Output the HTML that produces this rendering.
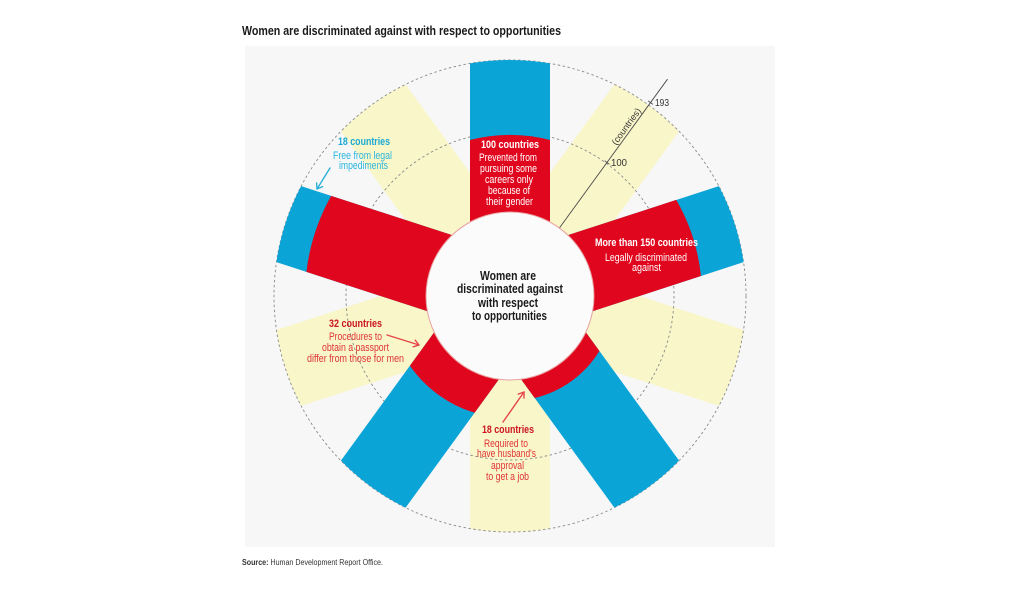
<!DOCTYPE html>
<html>
<head>
<meta charset="utf-8">
<style>
  html, body { margin: 0; padding: 0; background: #ffffff; }
  svg { display: block; }
  text { font-family: "Liberation Sans", "DejaVu Sans", sans-serif; }
</style>
</head>
<body>
<svg width="1024" height="594" viewBox="0 0 1024 594" xmlns="http://www.w3.org/2000/svg">
  <!-- title -->
  <text x="242" y="35" font-size="12.5" font-weight="bold" fill="#1a1a1a" textLength="319" lengthAdjust="spacingAndGlyphs">Women are discriminated against with respect to opportunities</text>

  <!-- panel -->
  <rect x="245" y="46" width="530" height="501" fill="#f7f7f8"/>

  <!-- yellow spokes -->
  <g fill="#f9f6ca">
    <path transform="translate(510,296) rotate(-54)" d="M0,-40 L232.59,-40 A236,236 0 0 1 232.59,40 L0,40 Z"/>
    <path transform="translate(510,296) rotate(18)" d="M0,-40 L232.59,-40 A236,236 0 0 1 232.59,40 L0,40 Z"/>
    <path transform="translate(510,296) rotate(90)" d="M0,-40 L232.59,-40 A236,236 0 0 1 232.59,40 L0,40 Z"/>
    <path transform="translate(510,296) rotate(162)" d="M0,-40 L232.59,-40 A236,236 0 0 1 232.59,40 L0,40 Z"/>
    <path transform="translate(510,296) rotate(-126)" d="M0,-40 L232.59,-40 A236,236 0 0 1 232.59,40 L0,40 Z"/>
  </g>

  <!-- dashed circles -->
  <circle cx="510" cy="296" r="236" fill="none" stroke="#8a8a8a" stroke-width="0.9" stroke-dasharray="2.5 2.5"/>
  <circle cx="510" cy="296" r="164" fill="none" stroke="#8a8a8a" stroke-width="0.9" stroke-dasharray="2.5 2.5"/>

  <!-- blue spokes -->
  <g fill="#0aa4d6">
    <path transform="translate(510,296) rotate(-90)" d="M0,-40 L232.59,-40 A236,236 0 0 1 232.59,40 L0,40 Z"/>
    <path transform="translate(510,296) rotate(-18)" d="M0,-40 L232.59,-40 A236,236 0 0 1 232.59,40 L0,40 Z"/>
    <path transform="translate(510,296) rotate(-162)" d="M0,-40 L232.59,-40 A236,236 0 0 1 232.59,40 L0,40 Z"/>
    <path transform="translate(510,296) rotate(126)" d="M0,-40 L232.59,-40 A236,236 0 0 1 232.59,40 L0,40 Z"/>
    <path transform="translate(510,296) rotate(54)" d="M0,-40 L232.59,-40 A236,236 0 0 1 232.59,40 L0,40 Z"/>
  </g>

  <!-- red spokes -->
  <g fill="#e0061d">
    <path transform="translate(510,296) rotate(-90)" d="M0,-40 L155.95,-40 A161,161 0 0 1 155.95,40 L0,40 Z"/>
    <path transform="translate(510,296) rotate(-18)" d="M0,-40 L187.79,-40 A192,192 0 0 1 187.79,40 L0,40 Z"/>
    <path transform="translate(510,296) rotate(-162)" d="M0,-40 L201.06,-40 A205,205 0 0 1 201.06,40 L0,40 Z"/>
    <path transform="translate(510,296) rotate(126)" d="M0,-40 L115.26,-40 A122,122 0 0 1 115.26,40 L0,40 Z"/>
    <path transform="translate(510,296) rotate(54)" d="M0,-40 L97.08,-40 A105,105 0 0 1 97.08,40 L0,40 Z"/>
  </g>

  <!-- axis -->
  <line x1="559.4" y1="228" x2="667.5" y2="79.2" stroke="#4a4a4a" stroke-width="0.9"/>
  <line x1="648.1" y1="100.8" x2="652.9" y2="104.4" stroke="#4a4a4a" stroke-width="0.9"/>
  <line x1="604.6" y1="160.7" x2="609.4" y2="164.3" stroke="#4a4a4a" stroke-width="0.9"/>
  <text x="655" y="106" font-size="10" fill="#333" textLength="14" lengthAdjust="spacingAndGlyphs">193</text>
  <text x="611" y="166" font-size="10" fill="#333" textLength="16" lengthAdjust="spacingAndGlyphs">100</text>
  <text transform="translate(628.8,128.2) rotate(-54)" text-anchor="middle" font-size="9" fill="#333" textLength="43" lengthAdjust="spacingAndGlyphs">(countries)</text>

  <!-- center circle -->
  <circle cx="510" cy="296" r="84" fill="#fbfbfb" stroke="#e9a3a3" stroke-width="1"/>

  <!-- center text -->
  <g font-size="13" font-weight="bold" fill="#1a1a1a" text-anchor="middle">
    <text x="508" y="280" textLength="56" lengthAdjust="spacingAndGlyphs">Women are</text>
    <text x="510" y="293" textLength="106" lengthAdjust="spacingAndGlyphs">discriminated against</text>
    <text x="508" y="307" textLength="60" lengthAdjust="spacingAndGlyphs">with respect</text>
    <text x="509.5" y="320" textLength="75" lengthAdjust="spacingAndGlyphs">to opportunities</text>
  </g>

  <!-- top red label -->
  <g fill="#ffffff" text-anchor="middle" font-size="11">
    <text x="510" y="148" font-weight="bold" textLength="58" lengthAdjust="spacingAndGlyphs">100 countries</text>
    <text x="508" y="161" textLength="58" lengthAdjust="spacingAndGlyphs">Prevented from</text>
    <text x="508.5" y="172" textLength="57" lengthAdjust="spacingAndGlyphs">pursuing some</text>
    <text x="509" y="183" textLength="48" lengthAdjust="spacingAndGlyphs">careers only</text>
    <text x="509" y="194" textLength="42" lengthAdjust="spacingAndGlyphs">because of</text>
    <text x="509.5" y="205" textLength="47" lengthAdjust="spacingAndGlyphs">their gender</text>
  </g>

  <!-- right red label -->
  <g fill="#ffffff" text-anchor="middle" font-size="11">
    <text x="646.5" y="246" font-weight="bold" textLength="103" lengthAdjust="spacingAndGlyphs">More than 150 countries</text>
    <text x="646" y="261" textLength="82" lengthAdjust="spacingAndGlyphs">Legally discriminated</text>
    <text x="646.5" y="271" textLength="29" lengthAdjust="spacingAndGlyphs">against</text>
  </g>

  <!-- top-left cyan label -->
  <g text-anchor="middle" font-size="11">
    <text x="364" y="145" font-weight="bold" fill="#1aa9d4" textLength="52" lengthAdjust="spacingAndGlyphs">18 countries</text>
    <text x="362.5" y="159" fill="#2bb5dc" textLength="59" lengthAdjust="spacingAndGlyphs">Free from legal</text>
    <text x="363.5" y="169" fill="#2bb5dc" textLength="49" lengthAdjust="spacingAndGlyphs">impediments</text>
  </g>
  <g stroke="#2bb0d8" stroke-width="1.4" fill="none" stroke-linecap="round" stroke-linejoin="round">
    <line x1="330" y1="168" x2="317" y2="189"/>
    <polyline points="322.6,186.6 317,189 316.6,182.9"/>
  </g>

  <!-- left red label -->
  <g text-anchor="middle" font-size="11">
    <text x="355.5" y="327" font-weight="bold" fill="#cc1422" textLength="53" lengthAdjust="spacingAndGlyphs">32 countries</text>
    <text x="355.5" y="340" fill="#de3336" textLength="53" lengthAdjust="spacingAndGlyphs">Procedures to</text>
    <text x="355.5" y="351" fill="#de3336" textLength="67" lengthAdjust="spacingAndGlyphs">obtain a passport</text>
    <text x="355.5" y="362" fill="#de3336" textLength="97" lengthAdjust="spacingAndGlyphs">differ from those for men</text>
  </g>
  <g stroke="#e5454a" stroke-width="1.4" fill="none" stroke-linecap="round" stroke-linejoin="round">
    <line x1="387" y1="335" x2="419" y2="345"/>
    <polyline points="413.2,346.8 419,345 415.2,340.2"/>
  </g>

  <!-- bottom red label -->
  <g text-anchor="middle" font-size="11">
    <text x="508" y="433" font-weight="bold" fill="#cc1422" textLength="52" lengthAdjust="spacingAndGlyphs">18 countries</text>
    <text x="506" y="447" fill="#de3336" textLength="44" lengthAdjust="spacingAndGlyphs">Required to</text>
    <text x="506.5" y="457" fill="#de3336" textLength="59" lengthAdjust="spacingAndGlyphs">have husband's</text>
    <text x="507.5" y="469" fill="#de3336" textLength="33" lengthAdjust="spacingAndGlyphs">approval</text>
    <text x="507.5" y="480" fill="#de3336" textLength="43" lengthAdjust="spacingAndGlyphs">to get a job</text>
  </g>
  <g stroke="#e5454a" stroke-width="1.4" fill="none" stroke-linecap="round" stroke-linejoin="round">
    <line x1="503" y1="422" x2="524" y2="392"/>
    <polyline points="524,398.1 524,392 518.2,394.1"/>
  </g>

  <!-- source -->
  <text x="242" y="565" font-size="8" fill="#333" textLength="141" lengthAdjust="spacingAndGlyphs"><tspan font-weight="bold">Source:</tspan> Human Development Report Office.</text>
</svg>
</body>
</html>
